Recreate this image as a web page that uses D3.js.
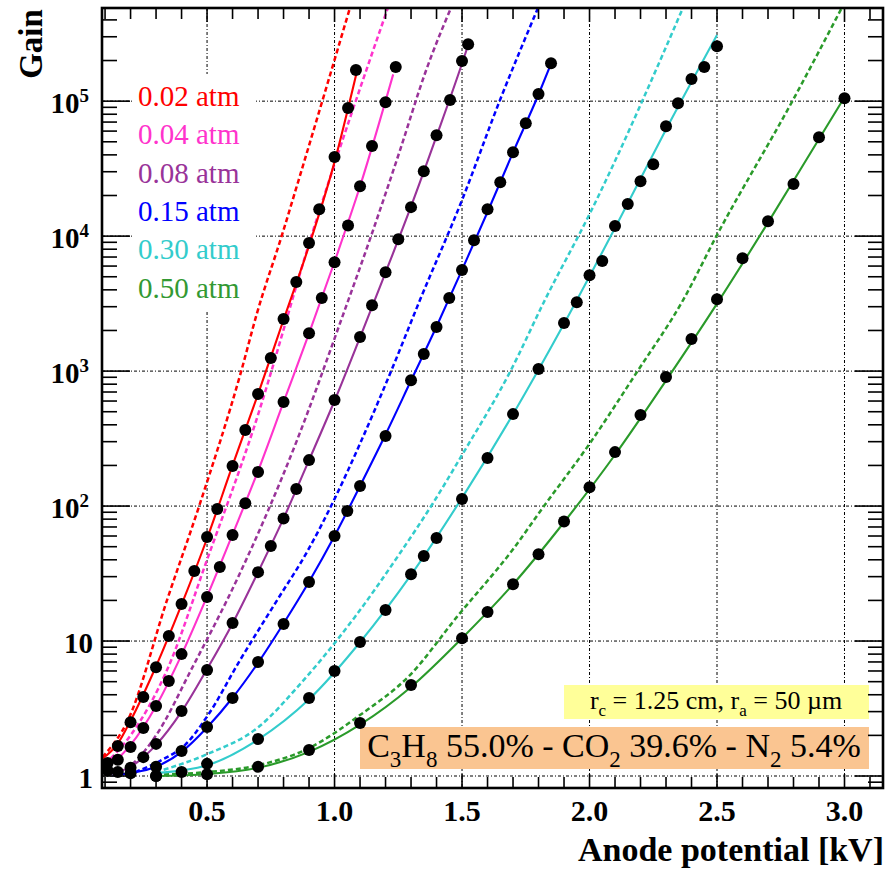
<!DOCTYPE html>
<html>
<head>
<meta charset="utf-8">
<script src="https://cdn.jsdelivr.net/npm/d3@7"></script>
<style>
  body { margin: 0; background: #fff; }
  #chart { width: 892px; height: 870px; }
  text { font-family: "Liberation Serif", "Times New Roman", serif; }
</style>
</head>
<body>
<div id="chart"></div>
<script>
// Gain vs anode potential, one set per pressure
const pressures = ['0.02 atm', '0.04 atm', '0.08 atm', '0.15 atm', '0.30 atm', '0.50 atm'];
const colors = ['#ff0000', '#ff33cc', '#993399', '#0000ff', '#33cccc', '#2a9a2a'];
const legendColors = ['#ff0000', '#ff33cc', '#993399', '#0000ff', '#33cccc', '#339933'];

// measured points [kV, gain]
const dots002 = [[0.11,1.25],[0.15,1.67],[0.2,2.5],[0.25,3.85],[0.3,6.4],[0.35,10.9],[0.4,18.8],[0.45,33],[0.5,59],[0.54,95],[0.6,198],[0.65,366],[0.7,676],[0.75,1250],[0.8,2430],[0.85,4570],[0.9,8900],[0.94,15800],[1.0,38500],[1.053,89000],[1.084,170000]];
const dots004 = [[0.11,1.1],[0.15,1.32],[0.2,1.64],[0.25,2.27],[0.3,3.3],[0.35,5.06],[0.4,8.0],[0.5,21.2],[0.55,35.3],[0.6,61],[0.65,105],[0.7,179],[0.8,590],[0.9,1910],[0.95,3480],[1.0,6400],[1.053,12000],[1.1,23400],[1.147,46500],[1.2,98000],[1.24,179000]];
const dots008 = [[0.15,1.07],[0.2,1.15],[0.25,1.38],[0.3,1.73],[0.4,3.03],[0.5,6.1],[0.6,13.6],[0.7,32.4],[0.75,50.6],[0.8,81],[0.85,134],[0.9,219],[1.0,610],[1.1,1790],[1.147,3080],[1.2,5400],[1.25,9500],[1.3,16400],[1.35,30300],[1.4,56000],[1.453,102000],[1.5,198000],[1.524,264000]];
const dots015 = [[0.2,1.05],[0.3,1.17],[0.4,1.53],[0.5,2.31],[0.6,3.78],[0.7,6.98],[0.8,13.4],[0.9,27.4],[1.0,60],[1.05,92],[1.1,141],[1.2,330],[1.3,857],[1.35,1340],[1.4,2120],[1.45,3480],[1.5,5600],[1.547,9330],[1.6,15800],[1.65,25100],[1.7,41900],[1.75,68700],[1.8,113000],[1.849,191000]];
const dots030 = [[0.3,1.0],[0.4,1.07],[0.5,1.23],[0.7,1.88],[0.9,3.78],[1.0,6.0],[1.1,9.84],[1.2,17],[1.3,31.3],[1.35,42.7],[1.4,58],[1.5,113],[1.6,227],[1.7,480],[1.8,1035],[1.9,2270],[1.95,3240],[2.0,5140],[2.05,6530],[2.1,11900],[2.15,17300],[2.2,25500],[2.25,34100],[2.3,65300],[2.347,96600],[2.4,146000],[2.45,179000],[2.5,255000]];
const dots050 = [[0.3,1.0],[0.5,1.03],[0.7,1.17],[0.9,1.56],[1.1,2.47],[1.3,4.72],[1.5,10.5],[1.6,16.4],[1.7,26.4],[1.8,44],[1.9,77],[2.0,138],[2.1,251],[2.2,472],[2.3,904],[2.4,1730],[2.5,3410],[2.6,6870],[2.7,12900],[2.8,24300],[2.9,54100],[3.0,105000]];

// fitted curves (solid)
const fit002 = [[0.09,1.35],[0.15,1.74],[0.2,2.57],[0.3,6.5],[0.4,18.6],[0.5,57.5],[0.6,200],[0.7,676],[0.8,2400],[0.9,8500],[1.0,35500],[1.085,158000]];
const fit004 = [[0.09,1.17],[0.15,1.35],[0.2,1.7],[0.3,3.3],[0.4,7.9],[0.5,21.4],[0.6,61.7],[0.7,182],[0.8,589],[0.9,1900],[1.0,6460],[1.1,23400],[1.23,158000]];
const fit008 = [[0.1,1.02],[0.2,1.17],[0.3,1.7],[0.4,3.0],[0.5,6.2],[0.6,13.5],[0.7,32.4],[0.8,81],[0.9,219],[1.0,603],[1.1,1780],[1.2,5370],[1.3,16600],[1.4,55000],[1.5,190000],[1.53,282000]];
const fit015 = [[0.13,1.01],[0.2,1.05],[0.3,1.17],[0.4,1.51],[0.5,2.29],[0.6,3.8],[0.7,6.9],[0.8,13.5],[0.9,27.5],[1.0,60],[1.1,141],[1.2,339],[1.3,851],[1.4,2140],[1.5,5620],[1.6,15100],[1.7,41700],[1.8,112000],[1.85,191000]];
const fit030 = [[0.3,1.05],[0.5,1.2],[0.7,1.86],[0.9,3.7],[1.1,9.8],[1.3,30.9],[1.5,115],[1.7,479],[1.9,2240],[2.1,11500],[2.3,61700],[2.5,309000]];
const fit050 = [[0.3,1.0],[0.5,1.035],[0.7,1.15],[0.9,1.51],[1.1,2.4],[1.3,4.57],[1.5,10.5],[1.7,26.3],[1.9,75.9],[2.1,240],[2.3,851],[2.5,3160],[2.7,12600],[2.9,52500],[3.0,107000]];

// calculated curves (dashed)
const calc002 = [[0.09,1.38],[0.19,2.6],[0.343,20.1],[0.469,100],[0.633,984],[0.696,2690],[0.794,10200],[0.865,28300],[1.065,525000]];
const calc004 = [[0.1,1.23],[0.2,2.0],[0.343,6.1],[0.5,40],[0.68,363],[0.916,11000],[1.22,562000]];
const calc008 = [[0.12,1.05],[0.2,1.2],[0.3,2.0],[0.441,6.3],[0.622,29.8],[0.853,308],[1.033,2600],[1.147,10500],[1.257,43400],[1.355,161000],[1.47,562000]];
const calc015 = [[0.218,1.07],[0.324,1.32],[0.414,1.7],[0.504,2.83],[0.629,7.2],[0.775,20.1],[0.892,45.7],[1.002,115],[1.1,290],[1.218,960],[1.335,3360],[1.5,18500],[1.649,102000],[1.8,501000]];
const calc030 = [[0.3,1.07],[0.5,1.45],[0.7,2.29],[0.865,4.8],[1.08,15.1],[1.257,44.9],[1.386,105],[1.5,239],[1.688,984],[1.825,3360],[2.002,14800],[2.38,562000]];
const calc050 = [[0.3,1.02],[0.5,1.07],[0.7,1.2],[0.9,1.61],[1.1,2.83],[1.296,5.6],[1.48,15.1],[1.7,47.9],[1.818,98],[2.002,293],[2.186,984],[2.367,3360],[2.5,10200],[2.798,102000],[3.0,537000]];

const dotSets = [dots002, dots004, dots008, dots015, dots030, dots050];
const fitSets = [fit002, fit004, fit008, fit015, fit030, fit050];
const calcSets = [calc002, calc004, calc008, calc015, calc030, calc050];

const xMajor = [0.5, 1.0, 1.5, 2.0, 2.5, 3.0];
const yMajor = [1, 10, 100, 1000, 10000, 100000];

const W = 892, H = 870;
const margin = { top: 8, right: 9, bottom: 82, left: 102 };

const svg = d3.select('#chart').append('svg')
  .attr('width', W).attr('height', H);

const x = d3.scaleLinear().domain([0.088, 3.151]).range([margin.left, W - margin.right]);
const y = d3.scaleLog().domain([0.815, 4.9e5]).range([H - margin.bottom, margin.top]);

const x0 = x.range()[0], x1 = x.range()[1];
const y0 = y.range()[0], y1 = y.range()[1];

svg.append('defs').append('clipPath').attr('id', 'plot')
  .append('rect').attr('x', x0).attr('y', y1).attr('width', x1 - x0).attr('height', y0 - y1);

// grid
const grid = svg.append('g').attr('stroke', '#000').attr('stroke-width', 1)
  .attr('stroke-dasharray', '3,2,1,2');
xMajor.forEach(v => grid.append('line')
  .attr('x1', x(v)).attr('x2', x(v)).attr('y1', y1).attr('y2', y0));
yMajor.forEach(v => grid.append('line')
  .attr('x1', x0).attr('x2', x1).attr('y1', y(v)).attr('y2', y(v)));

// legend backing hides the grid
svg.append('rect').attr('x', 132).attr('y', 74).attr('width', 124).attr('height', 236).attr('fill', '#fff');

// annotation boxes
svg.append('rect').attr('x', 564).attr('y', 685).attr('width', 305).attr('height', 34).attr('fill', '#ffff99');
svg.append('rect').attr('x', 360).attr('y', 727).attr('width', 509).attr('height', 42).attr('fill', '#fac591');

const line = d3.line().x(d => x(d[0])).y(d => y(d[1])).curve(d3.curveMonotoneX);
const curves = svg.append('g').attr('clip-path', 'url(#plot)').attr('fill', 'none');

calcSets.forEach((s, i) => curves.append('path').datum(s)
  .attr('d', line).attr('stroke', colors[i]).attr('stroke-width', 2.5)
  .attr('stroke-dasharray', '5,3'));
fitSets.forEach((s, i) => curves.append('path').datum(s)
  .attr('d', line).attr('stroke', colors[i]).attr('stroke-width', 2.1));

// data points
const pts = svg.append('g').attr('clip-path', 'url(#plot)');
dotSets.forEach(s => {
  pts.selectAll(null).data(s).enter().append('circle')
    .attr('cx', d => x(d[0])).attr('cy', d => y(d[1])).attr('r', 6).attr('fill', '#000');
});

// ticks on all four sides, pointing inward
const tk = svg.append('g').attr('stroke', '#000').attr('stroke-width', 1.6);
x.ticks(30).forEach(v => {
  const major = xMajor.some(m => Math.abs(m - v) < 1e-6);
  const len = major ? 14 : 11;
  tk.append('line').attr('x1', x(v)).attr('x2', x(v)).attr('y1', y0).attr('y2', y0 - len);
  tk.append('line').attr('x1', x(v)).attr('x2', x(v)).attr('y1', y1).attr('y2', y1 + len);
});
y.ticks().forEach(v => {
  if (v < y.domain()[0] || v > y.domain()[1]) return;
  const major = yMajor.indexOf(v) >= 0;
  const len = major ? 28 : 15;
  tk.append('line').attr('x1', x0).attr('x2', x0 + len).attr('y1', y(v)).attr('y2', y(v));
  tk.append('line').attr('x1', x1).attr('x2', x1 - len).attr('y1', y(v)).attr('y2', y(v));
});

// frame
svg.append('rect').attr('x', x0).attr('y', y1).attr('width', x1 - x0).attr('height', y0 - y1)
  .attr('fill', 'none').attr('stroke', '#000').attr('stroke-width', 2.6);

// x tick labels
svg.selectAll('.xl').data(xMajor).enter().append('text')
  .attr('x', d => x(d)).attr('y', 821).attr('text-anchor', 'middle')
  .style('font-size', '30px').style('font-weight', 'bold')
  .text(d => d.toFixed(1));

// y tick labels
yMajor.forEach((v, i) => {
  const t = svg.append('text').attr('y', y(v) + 12).attr('text-anchor', 'end')
    .style('font-size', '29px').style('font-weight', 'bold');
  if (i < 2) {
    t.attr('x', 93).text(String(v));
  } else {
    t.attr('x', 89);
    t.append('tspan').text('10');
    t.append('tspan').attr('dy', -11).style('font-size', '19px').text(String(i));
  }
});

// axis titles
svg.append('text').attr('x', 884).attr('y', 861).attr('text-anchor', 'end')
  .style('font-size', '34px').style('font-weight', 'bold').text('Anode potential [kV]');
svg.append('text').attr('transform', 'translate(42,44) rotate(-90)').attr('text-anchor', 'middle')
  .style('font-size', '33px').style('font-weight', 'bold').text('Gain');

// legend
pressures.forEach((p, i) => {
  svg.append('text').attr('x', 138).attr('y', 106 + i * 38.3)
    .style('font-size', '29px').attr('fill', legendColors[i]).text(p);
});

// annotation texts
const t1 = svg.append('text').attr('x', 716).attr('y', 709).attr('text-anchor', 'middle')
  .style('font-size', '26px');
t1.append('tspan').text('r');
t1.append('tspan').attr('dy', 7).style('font-size', '17px').text('c');
t1.append('tspan').attr('dy', -7).text(' = 1.25 cm, r');
t1.append('tspan').attr('dy', 7).style('font-size', '17px').text('a');
t1.append('tspan').attr('dy', -7).text(' = 50 µm');

const t2 = svg.append('text').attr('x', 614).attr('y', 757).attr('text-anchor', 'middle')
  .style('font-size', '34px');
[['C', 0], ['3', 1], ['H', 0], ['8', 1], [' 55.0% - CO', 0], ['2', 1], [' 39.6% - N', 0], ['2', 1], [' 5.4%', 0]]
  .forEach((p, k, arr) => {
    const prevSub = k > 0 && arr[k - 1][1];
    const dy = p[1] && !prevSub ? 10 : (!p[1] && prevSub ? -10 : 0);
    const ts = t2.append('tspan').attr('dy', dy).text(p[0]);
    if (p[1]) ts.style('font-size', '23px');
  });
</script>
</body>
</html>
